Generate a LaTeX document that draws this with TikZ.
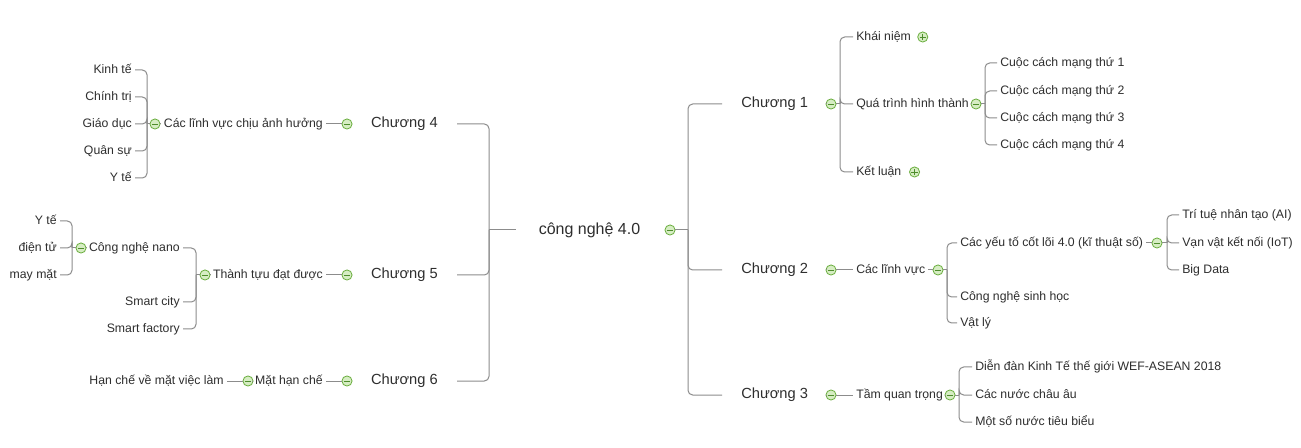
\documentclass[tikz,border=0pt]{standalone}
\usepackage{fontspec}
\setmainfont{Liberation Sans}
\definecolor{linegray}{HTML}{8C8C8C}
\definecolor{txt}{HTML}{2E2E2E}
\definecolor{icongreen}{HTML}{6AAE3E}
\definecolor{iconfill}{HTML}{D6EDC3}
\definecolor{icondark}{HTML}{4E8C2C}
\tikzset{
  conn/.style={draw=linegray, line width=0.75pt},
  branchline/.style={conn, rounded corners=3.5pt},
  leaf/.style={font=\fontsize{9.2}{11}\selectfont, text=txt, inner xsep=2.25pt, inner ysep=1pt, text height=6.8pt, text depth=1.8pt},
  chap/.style={font=\fontsize{11}{13}\selectfont, text=txt, inner xsep=14.25pt, inner ysep=2pt, text height=8pt, text depth=2.2pt},
  rootn/.style={font=\fontsize{12}{14}\selectfont, text=txt, inner xsep=17.25pt, inner ysep=2pt, text height=8.6pt, text depth=2.4pt},
  colicon/.style={circle, draw=icongreen, fill=iconfill, minimum size=7.6pt, inner sep=0pt, line width=0.6pt,
    path picture={\draw[icondark, line width=0.6pt] ([xshift=-2.3pt]path picture bounding box.center) -- ([xshift=2.3pt]path picture bounding box.center);}},
  expicon/.style={circle, draw=icongreen, fill=iconfill, minimum size=7.6pt, inner sep=0pt, line width=0.6pt,
    path picture={\draw[icondark, line width=0.6pt] ([xshift=-2.3pt]path picture bounding box.center) -- ([xshift=2.3pt]path picture bounding box.center) ([yshift=-2.3pt]path picture bounding box.center) -- ([yshift=2.3pt]path picture bounding box.center);}}
}
\begin{document}
\begin{tikzpicture}[x=0.75pt,y=-0.75pt]
\useasboundingbox[fill=white] (0,0) rectangle (1301,448);

% ---------- root ----------
\node[rootn] (root) at (589.5,230) {công nghệ 4.0};
\node[colicon] (rooti) at (670,230) {};
\coordinate (rt) at (688,230);
\coordinate (lt) at (489,230);

% ---------- right chapters ----------
\node[chap, anchor=west] (c1) at (722,104) {Chương 1};
\node[chap, anchor=west] (c2) at (722,270) {Chương 2};
\node[chap, anchor=west] (c3) at (722,395) {Chương 3};
\node[colicon] (c1i) at (831,104) {};
\node[colicon] (c2i) at (831,270) {};
\node[colicon] (c3i) at (831,395) {};

% Chuong 1
\coordinate (j1) at (840,104);
\node[leaf, anchor=west] (kn) at (853,37) {Khái niệm};
\node[leaf, anchor=west] (qt) at (853,104) {Quá trình hình thành};
\node[leaf, anchor=west] (kl) at (853,172) {Kết luận};
\node[expicon, anchor=west] (kni) at ([xshift=2.4pt]kn.east) {};
\node[expicon, anchor=west] (kli) at ([xshift=3.4pt]kl.east) {};
\node[colicon] (qti) at (976,104) {};
\coordinate (j1b) at (985,104);
\node[leaf, anchor=west] (m1) at (997,63) {Cuộc cách mạng thứ 1};
\node[leaf, anchor=west] (m2) at (997,91) {Cuộc cách mạng thứ 2};
\node[leaf, anchor=west] (m3) at (997,118) {Cuộc cách mạng thứ 3};
\node[leaf, anchor=west] (m4) at (997,145) {Cuộc cách mạng thứ 4};

% Chuong 2
\node[leaf, anchor=west] (lv) at (853,270) {Các lĩnh vực};
\node[colicon] (lvi) at (938,270) {};
\coordinate (j2) at (947,270);
\node[leaf, anchor=west] (yt) at (957,243) {Các yếu tố cốt lõi 4.0 (kĩ thuật số)};
\node[leaf, anchor=west] (sh) at (957,297) {Công nghệ sinh học};
\node[leaf, anchor=west] (vl) at (957,323) {Vật lý};
\node[colicon] (yti) at (1157,243) {};
\coordinate (j2b) at (1167,243);
\node[leaf, anchor=west] (ai) at (1179,215) {Trí tuệ nhân tạo (AI)};
\node[leaf, anchor=west] (iot) at (1179,243) {Vạn vật kết nối (IoT)};
\node[leaf, anchor=west] (bd) at (1179,270) {Big Data};

% Chuong 3
\node[leaf, anchor=west] (tq) at (853,395) {Tầm quan trọng};
\node[colicon] (tqi) at (950,395) {};
\coordinate (j3) at (959,395);
\node[leaf, anchor=west] (wef) at (972,367) {Diễn đàn Kinh Tế thế giới WEF-ASEAN 2018};
\node[leaf, anchor=west] (ca) at (972,395) {Các nước châu âu};
\node[leaf, anchor=west] (ms) at (972,422) {Một số nước tiêu biểu};

% ---------- left chapters ----------
\node[chap, anchor=east] (c4) at (457,124) {Chương 4};
\node[chap, anchor=east] (c5) at (457,275) {Chương 5};
\node[chap, anchor=east] (c6) at (457,381) {Chương 6};
\node[colicon] (c4i) at (347,124) {};
\node[colicon] (c5i) at (347,275) {};
\node[colicon] (c6i) at (347,381) {};

% Chuong 4
\node[leaf, anchor=east] (ah) at (326,124) {Các lĩnh vực chịu ảnh hưởng};
\node[colicon] (ahi) at (155,124) {};
\coordinate (j4) at (147,124);
\node[leaf, anchor=east] (kt) at (135,70) {Kinh tế};
\node[leaf, anchor=east] (ct) at (135,97) {Chính trị};
\node[leaf, anchor=east] (gd) at (135,124) {Giáo dục};
\node[leaf, anchor=east] (qs) at (135,151) {Quân sự};
\node[leaf, anchor=east] (yte) at (135,178) {Y tế};

% Chuong 5
\node[leaf, anchor=east] (tt) at (326,275) {Thành tựu đạt được};
\node[colicon] (tti) at (205,275) {};
\coordinate (j5) at (196,275);
\node[leaf, anchor=east] (nano) at (183,248) {Công nghệ nano};
\node[leaf, anchor=east] (sc) at (183,302) {Smart city};
\node[leaf, anchor=east] (sf) at (183,329) {Smart factory};
\node[colicon] (nanoi) at (81,248) {};
\coordinate (j5b) at (72,248);
\node[leaf, anchor=east] (yt2) at (60,221) {Y tế};
\node[leaf, anchor=east] (dt) at (60,248) {điện tử};
\node[leaf, anchor=east] (mm) at (60,275) {may mặt};

% Chuong 6
\node[leaf, anchor=east] (mh) at (326,381) {Mặt hạn chế};
\node[colicon] (mhi) at (248,381) {};
\node[leaf, anchor=east] (vlm) at (227,381) {Hạn chế về mặt việc làm};

% ---------- connectors ----------
\draw[conn] (rooti.east) -- (rt);
\draw[branchline] (rt) |- (c1.west);
\draw[branchline] (rt) |- (c2.west);
\draw[branchline] (rt) |- (c3.west);
\draw[conn] (root.west) -- (lt);
\draw[branchline] (lt) |- (c4.east);
\draw[branchline] (lt) |- (c5.east);
\draw[branchline] (lt) |- (c6.east);

\draw[conn] (c1.east) -- (c1i.west);
\draw[conn] (c2.east) -- (c2i.west);
\draw[conn] (c3.east) -- (c3i.west);

\draw[conn] (c1i.east) -- (j1);
\draw[branchline] (j1) |- (kn.west);
\draw[branchline] (j1) |- (qt.west);
\draw[branchline] (j1) |- (kl.west);
\draw[conn] (qt.east) -- (qti.west);
\draw[conn] (qti.east) -- (j1b);
\draw[branchline] (j1b) |- (m1.west);
\draw[branchline] (j1b) |- (m2.west);
\draw[branchline] (j1b) |- (m3.west);
\draw[branchline] (j1b) |- (m4.west);

\draw[conn] (c2i.east) -- (lv.west);
\draw[conn] (lv.east) -- (lvi.west);
\draw[conn] (lvi.east) -- (j2);
\draw[branchline] (j2) |- (yt.west);
\draw[branchline] (j2) |- (sh.west);
\draw[branchline] (j2) |- (vl.west);
\draw[conn] (yt.east) -- (yti.west);
\draw[conn] (yti.east) -- (j2b);
\draw[branchline] (j2b) |- (ai.west);
\draw[branchline] (j2b) |- (iot.west);
\draw[branchline] (j2b) |- (bd.west);

\draw[conn] (c3i.east) -- (tq.west);
\draw[conn] (tq.east) -- (tqi.west);
\draw[conn] (tqi.east) -- (j3);
\draw[branchline] (j3) |- (wef.west);
\draw[branchline] (j3) |- (ca.west);
\draw[branchline] (j3) |- (ms.west);

\draw[conn] (ah.east) -- (c4i.west);
\draw[conn] (ahi.west) -- (j4);
\draw[conn] (ahi.east) -- (ah.west);
\draw[branchline] (j4) |- (kt.east);
\draw[branchline] (j4) |- (ct.east);
\draw[branchline] (j4) |- (gd.east);
\draw[branchline] (j4) |- (qs.east);
\draw[branchline] (j4) |- (yte.east);

\draw[conn] (tt.east) -- (c5i.west);
\draw[conn] (tti.east) -- (tt.west);
\draw[conn] (tti.west) -- (j5);
\draw[branchline] (j5) |- (nano.east);
\draw[branchline] (j5) |- (sc.east);
\draw[branchline] (j5) |- (sf.east);
\draw[conn] (nanoi.east) -- (nano.west);
\draw[conn] (nanoi.west) -- (j5b);
\draw[branchline] (j5b) |- (yt2.east);
\draw[branchline] (j5b) |- (dt.east);
\draw[branchline] (j5b) |- (mm.east);

\draw[conn] (mh.east) -- (c6i.west);
\draw[conn] (mhi.east) -- (mh.west);
\draw[conn] (vlm.east) -- (mhi.west);
\end{tikzpicture}
\end{document}
